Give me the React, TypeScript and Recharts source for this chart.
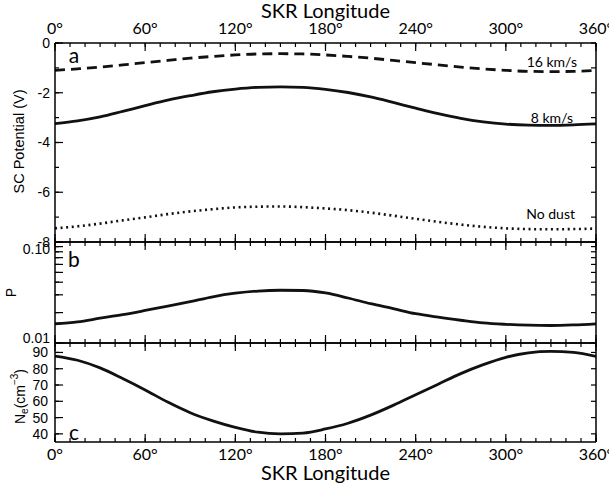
import React from 'react';
import { LineChart, Line, XAxis, YAxis } from 'recharts';

// ---------- data ----------
const longitudes = [0, 15, 30, 45, 60, 75, 90, 105, 120, 135, 150, 165, 180, 195, 210, 225, 240, 255, 270, 285, 300, 315, 330, 345, 360];
const potential16kms = [-1.10, -1.04, -0.97, -0.88, -0.79, -0.70, -0.61, -0.54, -0.48, -0.44, -0.43, -0.44, -0.48, -0.54, -0.61, -0.70, -0.79, -0.88, -0.97, -1.04, -1.10, -1.14, -1.15, -1.14, -1.10];
const potential8kms = [-3.24, -3.13, -2.97, -2.75, -2.52, -2.30, -2.12, -1.96, -1.85, -1.78, -1.76, -1.78, -1.86, -1.99, -2.17, -2.39, -2.62, -2.84, -3.03, -3.17, -3.26, -3.30, -3.31, -3.29, -3.25];
const potentialNoDust = [-7.45, -7.37, -7.26, -7.13, -7.01, -6.88, -6.77, -6.68, -6.61, -6.58, -6.57, -6.60, -6.65, -6.72, -6.82, -6.94, -7.07, -7.19, -7.30, -7.39, -7.45, -7.48, -7.49, -7.48, -7.46];
const pValues = [0.0155, 0.0162, 0.0176, 0.0191, 0.0210, 0.0232, 0.0257, 0.0287, 0.0311, 0.0327, 0.0333, 0.0331, 0.0313, 0.0279, 0.0245, 0.0219, 0.0195, 0.0180, 0.0168, 0.0158, 0.0153, 0.0150, 0.0149, 0.0151, 0.0155];
const neValues = [87.8, 85.2, 80.5, 74, 67, 59.5, 53, 48, 44, 41, 40, 40.5, 43, 46.5, 51.5, 57.5, 64, 70.5, 77, 82.5, 87, 89.7, 90.6, 90, 87.6];

const xMajorTicks = [0, 60, 120, 180, 240, 300, 360];
const xMinorTicks = [0, 10, 20, 30, 40, 50, 60, 70, 80, 90, 100, 110, 120, 130, 140, 150, 160, 170, 180, 190, 200, 210, 220, 230, 240, 250, 260, 270, 280, 290, 300, 310, 320, 330, 340, 350, 360];
const potMajorTicks = [-8, -6, -4, -2, 0];
const potMinorTicks = [-8, -7, -6, -5, -4, -3, -2, -1, 0];
const pLabelTicks = [0.01, 0.1];
const pMinorTicks = [0.01, 0.02, 0.03, 0.04, 0.05, 0.06, 0.07, 0.08, 0.09, 0.1];
const neTicks = [40, 50, 60, 70, 80, 90];

const seriesLabels = { fast: '16 km/s', mid: '8 km/s', none: 'No dust' };
const xTitle = 'SKR Longitude';

const rows = longitudes.map((lon, i) => ({
  lon,
  v16: potential16kms[i],
  v8: potential8kms[i],
  v0: potentialNoDust[i],
  p: pValues[i],
  ne: neValues[i],
}));

// ---------- layout ----------
const W = 609;
const H = 488;
const LEFT = 55;
const RIGHT = 596;
const PANEL_A = { top: 43, bottom: 242 };
const PANEL_B = { top: 242, bottom: 343 };
const PANEL_C = { top: 343, bottom: 442 };
const THIN = 0.001; // axes need a positive size to be drawn

const INK = '#111';
const GILL = 'Lato, "Open Sans", sans-serif';
const ARIAL = '"Liberation Sans", Arial, sans-serif';
const axisLine = { stroke: '#000', strokeWidth: 1.5 };
const tickLine = { stroke: '#000', strokeWidth: 1.2 };
const NoTick = () => <g />;
const degFmt = (v: number) => `${v}°`;

function frameAxes(yDomain: [number, number], yScale: 'linear' | 'log', yMajor: number[], yMinor: number[], rightTicks: number[]) {
  const common = { dataKey: 'lon', type: 'number' as const, domain: [0, 360] as [number, number], allowDataOverflow: true, interval: 0 as const, mirror: true, height: THIN, tick: NoTick, tickLine };
  const ycommon = { type: 'number' as const, domain: yDomain, scale: yScale, allowDataOverflow: true, interval: 0 as const, mirror: true, width: THIN, tick: NoTick, tickLine };
  return [
    <XAxis key="bMaj" xAxisId="bMaj" orientation="bottom" ticks={xMajorTicks} tickSize={8} axisLine={axisLine} {...common} />,
    <XAxis key="bMin" xAxisId="bMin" orientation="bottom" ticks={xMinorTicks} tickSize={4} axisLine={false} {...common} />,
    <XAxis key="tMaj" xAxisId="tMaj" orientation="top" ticks={xMajorTicks} tickSize={8} axisLine={axisLine} {...common} />,
    <XAxis key="tMin" xAxisId="tMin" orientation="top" ticks={xMinorTicks} tickSize={4} axisLine={false} {...common} />,
    <YAxis key="lMaj" yAxisId="lMaj" orientation="left" ticks={yMajor} tickSize={8} axisLine={axisLine} {...ycommon} />,
    <YAxis key="lMin" yAxisId="lMin" orientation="left" ticks={yMinor} tickSize={4} axisLine={false} {...ycommon} />,
    <YAxis key="rMin" yAxisId="rMin" orientation="right" ticks={rightTicks} tickSize={5} axisLine={axisLine} {...ycommon} />,
  ];
}

const chartStyle: React.CSSProperties = { position: 'absolute', left: 0, top: 0 };
const marginFor = (p: { top: number; bottom: number }) => ({ top: p.top, bottom: H - p.bottom, left: LEFT, right: W - RIGHT });

const yTickStyle = { fontFamily: ARIAL, fontSize: 14, fill: '#000' };
const xTickStyle = { fontFamily: GILL, fontSize: 16, fill: '#000' };

const PTick = (props: any) => {
  const { x, y, payload } = props;
  const v = payload.value;
  const top = v >= 0.1;
  return (
    <text x={x} y={y + (top ? 7 : -5)} textAnchor="end" dominantBaseline="central" fontFamily={ARIAL} fontSize={14} fill="#000">
      {top ? '0.10' : '0.01'}
    </text>
  );
};

const panelLetter = (letter: string, cy: number) => (
  <text x={74} y={cy} textAnchor="middle" dominantBaseline="central" fontFamily={GILL} fontSize={21} fill="#000">{letter}</text>
);

const labelA = () => (
  <g>
    <text transform={`translate(19,${(PANEL_A.top + PANEL_A.bottom) / 2 - 1}) rotate(-90)`} textAnchor="middle" dominantBaseline="central" fontFamily={ARIAL} fontSize={14.5} fill="#000">SC Potential (V)</text>
    {panelLetter('a', 54)}
    <text x={577} y={61} textAnchor="end" dominantBaseline="central" fontFamily={GILL} fontSize={14} fill="#000">{seriesLabels.fast}</text>
    <text x={573} y={117} textAnchor="end" dominantBaseline="central" fontFamily={GILL} fontSize={14} fill="#000">{seriesLabels.mid}</text>
    <text x={575} y={213} textAnchor="end" dominantBaseline="central" fontFamily={GILL} fontSize={14} fill="#000">{seriesLabels.none}</text>
  </g>
);

const labelB = () => (
  <g>
    <text transform={`translate(11,${(PANEL_B.top + PANEL_B.bottom) / 2}) rotate(-90)`} textAnchor="middle" dominantBaseline="central" fontFamily={ARIAL} fontSize={14} fill="#000">P</text>
    {panelLetter('b', 258)}
  </g>
);

const labelC = () => (
  <g>
    <text transform={`translate(20,${(PANEL_C.top + PANEL_C.bottom) / 2 + 4}) rotate(-90)`} textAnchor="middle" dominantBaseline="central" fontFamily={ARIAL} fontSize={14} fill="#000">
      N<tspan dy={4} fontSize={10}>e</tspan><tspan dy={-4}>(cm</tspan><tspan dy={-6} fontSize={10}>−3</tspan><tspan dy={6}>)</tspan>
    </text>
    {panelLetter('c', 431)}
  </g>
);

const topTitle = () => (
  <text x={(LEFT + RIGHT) / 2} y={18} textAnchor="middle" fontFamily={GILL} fontSize={20} fill="#000">{xTitle}</text>
);
const bottomTitle = () => (
  <text x={(LEFT + RIGHT) / 2} y={480} textAnchor="middle" fontFamily={GILL} fontSize={20} fill="#000">{xTitle}</text>
);

export default function App() {
  return (
    <div style={{ position: 'absolute', left: 0, top: 0, width: W, height: H, background: '#fff' }}>
      {/* Panel a */}
      <LineChart width={W} height={H} data={rows} margin={marginFor(PANEL_A)} style={chartStyle}>
        {frameAxes([-8, 0], 'linear', potMajorTicks, potMinorTicks, potMinorTicks)}
        <XAxis xAxisId="tLab" dataKey="lon" type="number" domain={[0, 360]} allowDataOverflow orientation="top" height={THIN} ticks={xMajorTicks} interval={0} tickSize={0} tickMargin={9} axisLine={false} tickLine={false} tickFormatter={degFmt} tick={xTickStyle} label={topTitle} />
        <YAxis yAxisId="lLab" type="number" domain={[-8, 0]} allowDataOverflow orientation="left" width={THIN} ticks={potMajorTicks} interval={0} tickSize={0} tickMargin={5} axisLine={false} tickLine={false} tick={yTickStyle} label={labelA} />
        <Line xAxisId="bMaj" yAxisId="lMaj" dataKey="v16" type="monotone" stroke={INK} strokeWidth={2.8} strokeDasharray="10 6" dot={false} isAnimationActive={false} />
        <Line xAxisId="bMaj" yAxisId="lMaj" dataKey="v8" type="monotone" stroke={INK} strokeWidth={2.8} dot={false} isAnimationActive={false} />
        <Line xAxisId="bMaj" yAxisId="lMaj" dataKey="v0" type="monotone" stroke={INK} strokeWidth={2.6} strokeDasharray="2 3.6" dot={false} isAnimationActive={false} />
      </LineChart>

      {/* Panel b */}
      <LineChart width={W} height={H} data={rows} margin={marginFor(PANEL_B)} style={chartStyle}>
        {frameAxes([0.01, 0.1], 'log', pMinorTicks, pMinorTicks, pMinorTicks)}
        <YAxis yAxisId="lLab" type="number" scale="log" domain={[0.01, 0.1]} allowDataOverflow orientation="left" width={THIN} ticks={pLabelTicks} interval={0} tickSize={0} tickMargin={5} axisLine={false} tickLine={false} tick={PTick} label={labelB} />
        <Line xAxisId="bMaj" yAxisId="lMaj" dataKey="p" type="monotone" stroke={INK} strokeWidth={2.8} dot={false} isAnimationActive={false} />
      </LineChart>

      {/* Panel c */}
      <LineChart width={W} height={H} data={rows} margin={marginFor(PANEL_C)} style={chartStyle}>
        {frameAxes([35, 95.8], 'linear', neTicks, neTicks, neTicks)}
        <XAxis xAxisId="bLab" dataKey="lon" type="number" domain={[0, 360]} allowDataOverflow orientation="bottom" height={THIN} ticks={xMajorTicks} interval={0} tickSize={0} tickMargin={7} axisLine={false} tickLine={false} tickFormatter={degFmt} tick={xTickStyle} label={bottomTitle} />
        <YAxis yAxisId="lLab" type="number" domain={[35, 95.8]} allowDataOverflow orientation="left" width={THIN} ticks={neTicks} interval={0} tickSize={0} tickMargin={7} axisLine={false} tickLine={false} tick={yTickStyle} label={labelC} />
        <Line xAxisId="bMaj" yAxisId="lMaj" dataKey="ne" type="monotone" stroke={INK} strokeWidth={2.8} dot={false} isAnimationActive={false} />
      </LineChart>
    </div>
  );
}
